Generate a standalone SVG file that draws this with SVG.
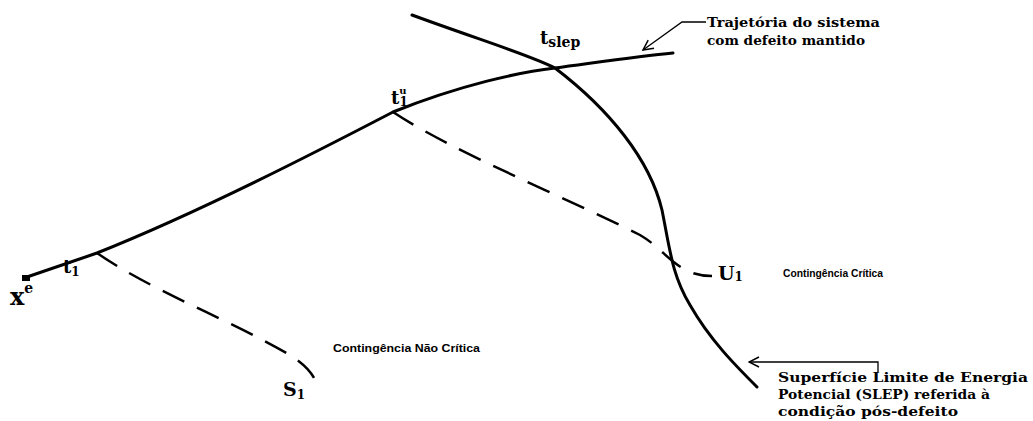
<svg xmlns="http://www.w3.org/2000/svg" width="1033" height="421" viewBox="0 0 1033 421">
<defs>
<style>
.curve{fill:none;stroke:#000;stroke-width:3;stroke-linecap:round;stroke-linejoin:round}
.dash{fill:none;stroke:#000;stroke-width:2.5;stroke-dasharray:24 14}
.lead{fill:none;stroke:#000;stroke-width:1.3}
.sym{font-family:"DejaVu Serif","Liberation Serif",serif;font-weight:bold;fill:#000}
.lab{font-family:"DejaVu Serif","Liberation Serif",serif;font-size:12.5px;font-weight:bold;fill:#000}
.sans{font-family:"Liberation Sans",Arial,sans-serif;font-size:10.5px;font-weight:bold;fill:#000}
</style>
<marker id="open" viewBox="0 0 12 12" refX="11" refY="6" markerWidth="12" markerHeight="12" markerUnits="userSpaceOnUse" orient="auto">
<path d="M1,1 L11,6 L1,11" fill="none" stroke="#000" stroke-width="1.5"/>
</marker>
</defs>
<g id="connectors">
<path id="trajectory" class="curve" d="M24,278 L97,253 C200,212 320,150 393,112 C460,85 520,72 555,68 C600,62 640,56 673,53"/>
<path id="slep" class="curve" d="M412,15 C480,40 530,55 555,68 C610,110 650,160 662,210 C670,250 672,275 690,305 C710,340 735,365 757,387"/>
<path id="dash-s1" class="dash" d="M97,253 C150,290 230,320 290,355 C310,368 316,378 318,390"/>
<path id="dash-u1" class="dash" d="M393,112 C450,150 560,195 640,235 C662,248 668,262 690,272 C700,276 708,276 712,276"/>
<polyline id="lead-traj" class="lead" marker-end="url(#open)" points="706,22 682,22 643,50"/>
<polyline id="lead-slep" class="lead" marker-end="url(#open)" points="878,372 878,362 749,362"/>
<rect x="22" y="275" width="8" height="6" fill="#000"/>
</g>
<g id="node-xe"><text class="sym" x="10" y="305" font-size="24">x<tspan font-size="14" dy="-12">e</tspan></text></g>
<g id="node-t1"><text class="sym" x="63" y="273" font-size="18">t<tspan font-size="12" dy="3">1</tspan></text></g>
<g id="node-t1u"><text class="sym" x="391" y="104" font-size="18">t<tspan font-size="10" dy="-10">u</tspan><tspan font-size="12" dx="-7" dy="12">1</tspan></text></g>
<g id="node-tslep"><text class="sym" x="540" y="44" font-size="18">t<tspan font-size="14" dy="3">slep</tspan></text></g>
<g id="node-s1"><text class="sym" x="283" y="396" font-size="19">S<tspan font-size="12" dy="3">1</tspan></text></g>
<g id="node-u1"><text class="sym" x="718" y="280" font-size="19">U<tspan font-size="12" dy="1">1</tspan></text></g>
<g id="label-traj"><text class="lab" x="707" y="27" textLength="173" lengthAdjust="spacingAndGlyphs">Trajetória do sistema</text><text class="lab" x="707" y="45" textLength="158" lengthAdjust="spacingAndGlyphs">com defeito mantido</text></g>
<g id="label-slep"><text class="lab" x="778" y="382" textLength="250" lengthAdjust="spacingAndGlyphs">Superfície Limite de Energia</text><text class="lab" x="778" y="399" textLength="212" lengthAdjust="spacingAndGlyphs">Potencial (SLEP) referida à</text><text class="lab" x="778" y="416" textLength="180" lengthAdjust="spacingAndGlyphs">condição pós-defeito</text></g>
<g id="label-critica"><text class="sans" x="783" y="277" textLength="100" lengthAdjust="spacingAndGlyphs">Contingência Crítica</text></g>
<g id="label-nao"><text class="sans" x="333" y="352" textLength="147" lengthAdjust="spacingAndGlyphs">Contingência Não Crítica</text></g>
</svg>
